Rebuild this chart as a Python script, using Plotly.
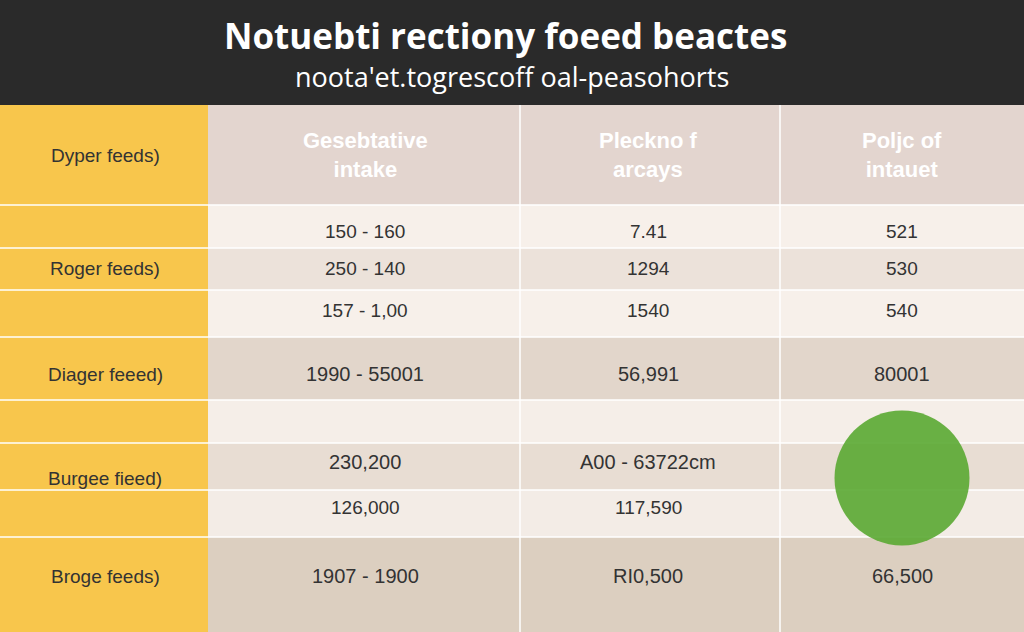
import plotly.graph_objects as go

title = "Notuebti rectiony foeed beactes"
subtitle = "noota'et.togrescoff oal-peasohorts"
col_headers = ["Gesebtative<br>intake", "Pleckno f<br>arcays", "Poljc of<br>intauet"]
group_labels = ["Dyper feeds)", "Roger feeds)", "Diager feeed)", "Burgee fieed)", "Broge feeds)"]
col1 = ["150 - 160", "250 - 140", "157 - 1,00", "1990 - 55001", "", "230,200", "126,000", "1907 - 1900"]
col2 = ["7.41", "1294", "1540", "56,991", "", "A00 - 63722cm", "117,590", "RI0,500"]
col3 = ["521", "530", "540", "80001", "", "", "", "66,500"]

row_edges = [205, 248, 290, 337, 400, 443, 490, 537, 632]
row_text_y = [231, 268, 310, 374, 420, 462, 507, 576]
row_fill = ["#f7f0ea", "#ece2da", "#f7f0ea", "#e2d6cb", "#f5eee8", "#e8ddd3", "#f3ece6", "#dccfc0"]
row_font = [19, 19, 19, 20, 19, 20, 19, 20]
group_y = [155, 268, 374, 478, 576]
col_x = [365, 648, 902]
col_edges = [208, 520, 780, 1024]

fig = go.Figure()
shapes = []
ann = []
shapes.append(dict(type="rect", x0=0, x1=1024, y0=0, y1=105, fillcolor="#2a2a2a", line_width=0))
shapes.append(dict(type="rect", x0=208, x1=1024, y0=105, y1=205, fillcolor="#e3d5cf", line_width=0))
shapes.append(dict(type="rect", x0=0, x1=208, y0=105, y1=632, fillcolor="#f8c64c", line_width=0))
for i in range(len(row_fill)):
    shapes.append(dict(type="rect", x0=208, x1=1024, y0=row_edges[i], y1=row_edges[i+1], fillcolor=row_fill[i], line_width=0))
for e in row_edges[:-1]:
    shapes.append(dict(type="line", x0=0, x1=1024, y0=e, y1=e, line=dict(color="#ffffff", width=1.5)))
for x in col_edges[1:-1]:
    shapes.append(dict(type="line", x0=x, x1=x, y0=105, y1=632, line=dict(color="#ffffff", width=1.5)))
for s in shapes:
    s["layer"] = "below"

ann.append(dict(x=505, y=35, text="<b>" + title + "</b>", font=dict(size=35, color="white", family="Open Sans")))
ann.append(dict(x=512, y=76, text=subtitle, font=dict(size=27, color="white", family="Open Sans")))
for lab, y in zip(group_labels, group_y):
    ann.append(dict(x=105, y=y, text=lab, font=dict(size=19, color="#333333", family="Liberation Sans")))
for h, x in zip(col_headers, col_x):
    ann.append(dict(x=x, y=155, text="<b>" + h + "</b>", font=dict(size=22, color="#ffffff", family="Liberation Sans")))
for i in range(len(col1)):
    for vals, x in zip([col1, col2, col3], col_x):
        if vals[i]:
            ann.append(dict(x=x, y=row_text_y[i], text=vals[i], font=dict(size=row_font[i], color="#333333", family="Liberation Sans")))
for a in ann:
    a.update(showarrow=False, xref="x", yref="y")

fig.add_trace(go.Scatter(x=[902], y=[478], mode="markers", marker=dict(size=135, color="#5aa832", opacity=0.9), hoverinfo="skip", showlegend=False))
fig.update_layout(width=1024, height=632, margin=dict(l=0, r=0, t=0, b=0),
                  paper_bgcolor="#f5eee8", plot_bgcolor="#f5eee8", shapes=shapes, annotations=ann,
                  xaxis=dict(range=[0, 1024], visible=False, fixedrange=True),
                  yaxis=dict(range=[632, 0], visible=False, fixedrange=True))
fig.write_html("out.html", config={"displayModeBar": False})
with open("out.html") as f:
    html = f.read()
html = html.replace("<head>", "<head><style>html,body{margin:0;padding:0;overflow:hidden}</style>", 1)
with open("out.html", "w") as f:
    f.write(html)
